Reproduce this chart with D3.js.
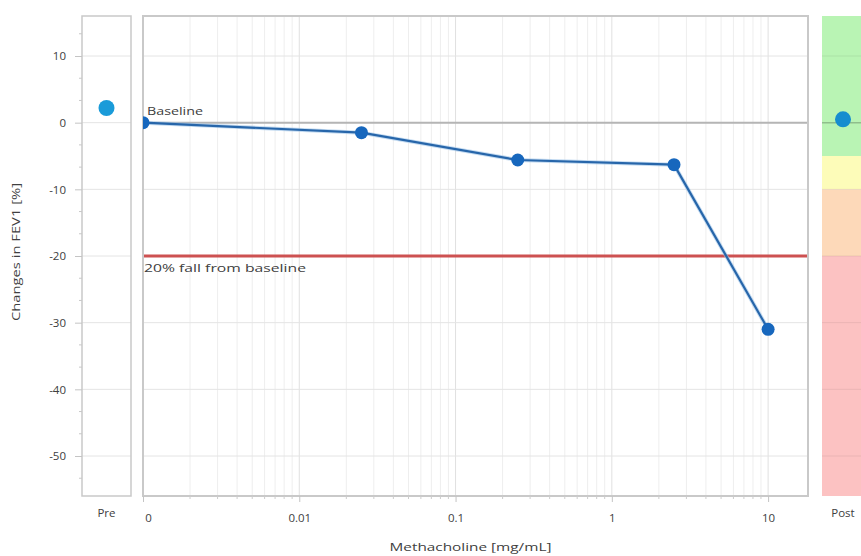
<!DOCTYPE html>
<html>
<head>
<meta charset="utf-8">
<script src="https://cdn.jsdelivr.net/npm/d3@7"></script>
<style>
  html, body { margin: 0; padding: 0; background: #fff; }
  svg { display: block; font-family: "Open Sans", "DejaVu Sans", sans-serif; }
</style>
</head>
<body>
<svg id="chart" width="861" height="556"></svg>
<script>
// ---- data ----
const doses = [0, 0.025, 0.25, 2.5, 10];              // Methacholine mg/mL
const fev1Change = [0, -1.5, -5.6, -6.3, -31];         // % change in FEV1
const preValue = 2.2;
const postValue = 0.5;
const xTickValues = [0.001, 0.01, 0.1, 1, 10];
const xTickLabels = ["0", "0.01", "0.1", "1", "10"];
const yTickValues = [10, 0, -10, -20, -30, -40, -50];
const yTickLabels = ["10", "0", "-10", "-20", "-30", "-40", "-50"];
const bandStops = [16, -5, -10, -20, -56];
const bandColors = ["#b9f4b4", "#fdfcb9", "#fdd9b9", "#fcc2c2"];
const baselineValue = 0;
const fallValue = -20;

// ---- layout ----
const svg = d3.select("#chart");
const yTop = 16, yBottom = 496;
const pre = { x0: 82, x1: 131 };
const main = { x0: 143, x1: 808 };
const post = { x0: 822, x1: 864 };

const y = d3.scaleLinear().domain([-56, 16]).range([yBottom, yTop]);
const x = d3.scaleLog().domain([0.001, 18]).range([main.x0, main.x1]);
const xPos = d => d === 0 ? x(0.001) : x(d);

const gridColor = "#e4e4e4";
const borderColor = "#c9c9c9";
const textColor = "#404040";

// ---- post panel colour bands ----
const bands = bandColors.map((c, i) => ({ hi: bandStops[i], lo: bandStops[i + 1], c }));
svg.append("g").selectAll("rect").data(bands).join("rect")
  .attr("x", post.x0).attr("width", post.x1 - post.x0)
  .attr("y", d => y(d.hi)).attr("height", d => y(d.lo) - y(d.hi))
  .attr("fill", d => d.c);
svg.append("g").selectAll("line").data(yTickValues).join("line")
  .attr("x1", post.x0).attr("x2", post.x1)
  .attr("y1", d => y(d)).attr("y2", d => y(d))
  .attr("stroke", d => d === 0 ? "rgba(0,0,0,0.22)" : "rgba(0,0,0,0.07)")
  .attr("stroke-width", d => d === 0 ? 1.5 : 1);

// ---- pre panel ----
svg.append("g").selectAll("line").data(yTickValues).join("line")
  .attr("x1", pre.x0).attr("x2", pre.x1)
  .attr("y1", d => y(d)).attr("y2", d => y(d))
  .attr("stroke", gridColor).attr("stroke-width", 1);
svg.append("rect")
  .attr("x", pre.x0).attr("y", yTop).attr("width", pre.x1 - pre.x0).attr("height", yBottom - yTop)
  .attr("fill", "none").attr("stroke", borderColor).attr("stroke-width", 1.5);

// ---- main panel grid ----
const minorX = [];
[0.001, 0.01, 0.1, 1, 10].forEach(dec => {
  for (let k = 1; k <= 9; k++) {
    const v = dec * k;
    if (v >= 0.001 && v <= 18) minorX.push(v);
  }
});
const gMain = svg.append("g");
gMain.append("g").selectAll("line").data(minorX).join("line")
  .attr("x1", d => x(d)).attr("x2", d => x(d))
  .attr("y1", yTop).attr("y2", yBottom)
  .attr("stroke", d => xTickValues.includes(d) ? "#e0e0e0" : "#eeeeee")
  .attr("stroke-width", 1);
gMain.append("g").selectAll("line").data(yTickValues).join("line")
  .attr("x1", main.x0).attr("x2", main.x1)
  .attr("y1", d => y(d)).attr("y2", d => y(d))
  .attr("stroke", gridColor).attr("stroke-width", 1);

// reference lines
gMain.append("line")
  .attr("x1", main.x0).attr("x2", main.x1)
  .attr("y1", y(baselineValue)).attr("y2", y(baselineValue))
  .attr("stroke", "#b5b5b5").attr("stroke-width", 2);
gMain.append("line")
  .attr("x1", main.x0).attr("x2", main.x1)
  .attr("y1", y(fallValue)).attr("y2", y(fallValue))
  .attr("stroke", "#cd5151").attr("stroke-width", 3);

gMain.append("text")
  .attr("x", main.x0 + 4).attr("y", y(baselineValue) - 8)
  .attr("font-size", 11).attr("fill", textColor)
  .attr("textLength", 56).attr("lengthAdjust", "spacingAndGlyphs")
  .text("Baseline");
gMain.append("text")
  .attr("x", main.x0 + 1).attr("y", y(fallValue) + 16)
  .attr("font-size", 11).attr("fill", textColor)
  .attr("textLength", 162).attr("lengthAdjust", "spacingAndGlyphs")
  .text("20% fall from baseline");

// border
svg.append("rect")
  .attr("x", main.x0).attr("y", yTop).attr("width", main.x1 - main.x0).attr("height", yBottom - yTop)
  .attr("fill", "none").attr("stroke", borderColor).attr("stroke-width", 2);

// ---- series ----
svg.append("defs").append("clipPath").attr("id", "clipMain")
  .append("rect").attr("x", main.x0).attr("y", yTop)
  .attr("width", main.x1 - main.x0).attr("height", yBottom - yTop);

const pts = doses.map((d, i) => ({ d, v: fev1Change[i] }));
const gSeries = svg.append("g").attr("clip-path", "url(#clipMain)");
const line = d3.line().x(p => xPos(p.d)).y(p => y(p.v));
gSeries.append("path").datum(pts)
  .attr("d", line).attr("fill", "none")
  .attr("stroke", "#9cc3e8").attr("stroke-width", 4).attr("stroke-opacity", 0.6);
gSeries.append("path").datum(pts)
  .attr("d", line).attr("fill", "none")
  .attr("stroke", "#2766aa").attr("stroke-width", 2.2);
gSeries.selectAll("circle").data(pts).join("circle")
  .attr("cx", p => xPos(p.d)).attr("cy", p => y(p.v)).attr("r", 6.5)
  .attr("fill", "#1767bd");

// pre / post points
svg.append("circle")
  .attr("cx", (pre.x0 + pre.x1) / 2).attr("cy", y(preValue)).attr("r", 8)
  .attr("fill", "#1a9bd9");
svg.append("circle")
  .attr("cx", (post.x0 + post.x1) / 2).attr("cy", y(postValue)).attr("r", 8)
  .attr("fill", "#168dcf");

// ---- y axis ----
const yAxis = d3.axisLeft(y).tickValues(yTickValues).tickSize(7).tickPadding(9)
  .tickFormat((d, i) => yTickLabels[i]);
const gy = svg.append("g").attr("transform", `translate(${pre.x0},0)`).call(yAxis);
gy.select(".domain").remove();
gy.selectAll(".tick line").attr("stroke", "#c4c4c4");
gy.selectAll(".tick text").attr("fill", textColor).attr("font-size", 11.5)
  .attr("font-family", '"Open Sans", sans-serif');
const minorY = [];
for (let v = -50; v <= 10; v += 10) { minorY.push(v + 10 / 3, v + 20 / 3); }
minorY.push(-50 - 10 / 3);
svg.append("g").selectAll("line").data(minorY.filter(v => v > -56 && v < 16)).join("line")
  .attr("x1", pre.x0 - 3).attr("x2", pre.x0)
  .attr("y1", d => y(d)).attr("y2", d => y(d))
  .attr("stroke", "#c8c8c8");

svg.append("text")
  .attr("transform", `translate(20,${(yTop + yBottom) / 2 - 4}) rotate(-90)`)
  .attr("text-anchor", "middle").attr("font-size", 10.5).attr("fill", textColor)
  .attr("textLength", 138).attr("lengthAdjust", "spacingAndGlyphs")
  .text("Changes in FEV1 [%]");

// ---- x axis ----
const xAxis = d3.axisBottom(x).tickValues(xTickValues).tickSize(6).tickPadding(12)
  .tickFormat((d, i) => xTickLabels[i]);
const gx = svg.append("g").attr("transform", `translate(0,${yBottom})`).call(xAxis);
gx.select(".domain").remove();
gx.selectAll(".tick line").attr("stroke", "#c4c4c4");
gx.selectAll(".tick text").attr("fill", textColor).attr("font-size", 11.5)
  .attr("font-family", '"Open Sans", sans-serif');
gx.selectAll(".tick").filter((d, i) => i === 0).select("text").attr("dx", 5);
svg.append("g").selectAll("line").data(minorX.filter(v => !xTickValues.includes(v))).join("line")
  .attr("x1", d => x(d)).attr("x2", d => x(d))
  .attr("y1", yBottom).attr("y2", yBottom + 3)
  .attr("stroke", "#cccccc");

svg.append("text")
  .attr("x", (main.x0 + main.x1) / 2 - 5).attr("y", 551)
  .attr("text-anchor", "middle").attr("font-size", 11).attr("fill", textColor)
  .attr("textLength", 162).attr("lengthAdjust", "spacingAndGlyphs")
  .text("Methacholine [mg/mL]");

svg.append("text")
  .attr("x", (pre.x0 + pre.x1) / 2).attr("y", 517)
  .attr("text-anchor", "middle").attr("font-size", 11.5).attr("fill", textColor)
  .text("Pre");
svg.append("text")
  .attr("x", (post.x0 + post.x1) / 2).attr("y", 517)
  .attr("text-anchor", "middle").attr("font-size", 11.5).attr("fill", textColor)
  .text("Post");
</script>
</body>
</html>
